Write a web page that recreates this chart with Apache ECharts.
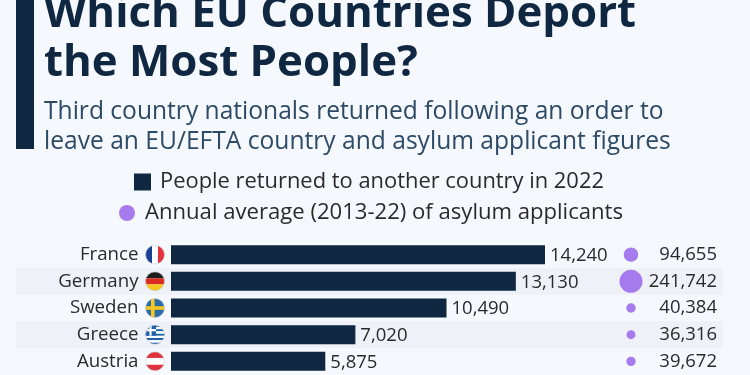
<!DOCTYPE html>
<html>
<head>
<meta charset="utf-8">
<style>
  html, body { margin: 0; padding: 0; background: #f5f8fc; }
  #chart { width: 750px; height: 375px; }
</style>
<script src="https://cdn.jsdelivr.net/npm/echarts@6/dist/echarts.min.js"></script>
</head>
<body>
<div id="chart"></div>
<script>
const countries = ['France', 'Germany', 'Sweden', 'Greece', 'Austria'];
const returned = [14240, 13130, 10490, 7020, 5875];
const asylum = [94655, 241742, 40384, 36316, 39672];
const returnedName = 'People returned to another country in 2022';
const asylumName = 'Annual average (2013-22) of asylum applicants';

function flag(body) {
  const svg = '<svg xmlns="http://www.w3.org/2000/svg" width="40" height="40" viewBox="0 0 20 20">' +
    '<defs><clipPath id="c"><circle cx="10" cy="10" r="9.5"/></clipPath></defs>' +
    '<g clip-path="url(#c)">' + body + '</g>' +
    '<circle cx="10" cy="10" r="9.4" fill="none" stroke="#c8ccd2" stroke-width="0.6"/></svg>';
  return 'image://data:image/svg+xml;charset=utf-8,' + encodeURIComponent(svg);
}
function r(x, y, w, h, c) {
  return `<rect x="${x}" y="${y}" width="${w}" height="${h}" fill="${c}"/>`;
}
const greeceStripes = [0, 2, 4, 6, 8].map(i => r(0, i * 2.22, 20, 2.22, '#1f5fa8')).join('') +
  [1, 3, 5, 7].map(i => r(0, i * 2.22, 20, 2.22, '#fff')).join('') +
  r(0, 0, 11, 11, '#1f5fa8') + r(4.4, 0, 2.2, 11, '#fff') + r(0, 4.4, 11, 2.2, '#fff');
const flags = [
  flag(r(0, 0, 7, 20, '#1a3f95') + r(7, 0, 6, 20, '#fff') + r(13, 0, 7, 20, '#e5323f')),
  flag(r(0, 0, 20, 7, '#1c1c1c') + r(0, 7, 20, 6, '#dc2b22') + r(0, 13, 20, 7, '#f6c81e')),
  flag(r(0, 0, 20, 20, '#2a6ca8') + r(6, 0, 3.6, 20, '#f7c81e') + r(0, 8.2, 20, 3.6, '#f7c81e')),
  flag(greeceStripes),
  flag(r(0, 0, 20, 6.6, '#e0323c') + r(0, 6.6, 20, 6.8, '#fff') + r(0, 13.4, 20, 6.6, '#e0323c'))
];

const chart = echarts.init(document.getElementById('chart'));
const fmt = v => v.toLocaleString('en-US');
const font = '"Open Sans"';
const rowTop = 241.3, rowsH = 133.4;
const textColor = '#2a2a2a';

chart.setOption({
  backgroundColor: '#f5f8fc',
  animation: false,
  textStyle: { fontFamily: font },
  title: [
    {
      text: 'Which EU Countries Deport\nthe Most People?',
      left: 39, top: -15,
      textStyle: { fontFamily: font, fontWeight: 700, fontSize: 43.8, lineHeight: 49, color: '#0f2741' }
    },
    {
      text: 'Third country nationals returned following an order to\nleave an EU/EFTA country and asylum applicant figures',
      left: 39, top: 92,
      textStyle: { fontFamily: font, fontWeight: 400, fontSize: 24.6, lineHeight: 30, color: '#2d4a66' }
    }
  ],
  graphic: [
    { type: 'rect', shape: { x: 16, y: 0, width: 18, height: 149 }, style: { fill: '#0f2741' } }
  ],
  legend: [
    {
      data: [{ name: returnedName, icon: 'rect' }],
      left: 134, top: 171, padding: 0,
      itemWidth: 17, itemHeight: 17,
      textStyle: { fontFamily: font, fontSize: 21.9, color: textColor, padding: [0, 0, 0, 4] }
    },
    {
      data: [{ name: asylumName, icon: 'circle' }],
      left: 119, top: 202, padding: 0,
      itemWidth: 16, itemHeight: 16,
      textStyle: { fontFamily: font, fontSize: 22.1, color: textColor, padding: [0, 0, 0, 5] }
    }
  ],
  grid: [
    { left: 16, width: 707, top: rowTop, height: rowsH },
    { left: 171, width: 374, top: rowTop, height: rowsH },
    { left: 601, width: 60, top: rowTop, height: rowsH },
    { left: 145, width: 20, top: rowTop, height: rowsH }
  ],
  xAxis: [
    { gridIndex: 0, type: 'value', show: false, min: 0, max: 1 },
    { gridIndex: 1, type: 'value', show: false, min: 0, max: 14240 },
    { gridIndex: 2, type: 'value', show: false, min: 0, max: 2 },
    { gridIndex: 3, type: 'value', show: false, min: 0, max: 2 }
  ],
  yAxis: [
    {
      gridIndex: 0, type: 'category', data: countries, inverse: true,
      axisLine: { show: false }, axisTick: { show: false }, axisLabel: { show: false },
      splitLine: { show: false },
      splitArea: { show: true, areaStyle: { color: ['rgba(0,0,0,0)', '#eef1f7'] } }
    },
    {
      gridIndex: 1, type: 'category', data: countries, inverse: true,
      axisLine: { show: false }, axisTick: { show: false },
      axisLabel: { margin: 32.5, fontFamily: font, fontSize: 18.7, color: textColor, padding: [5, 0, 0, 0] }
    },
    {
      gridIndex: 2, type: 'category', data: asylum.map(fmt), inverse: true, position: 'right',
      axisLine: { show: false }, axisTick: { show: false },
      axisLabel: { margin: 56, align: 'right', fontFamily: font, fontSize: 18.5, color: textColor, padding: [5, 0, 0, 0] }
    },
    {
      gridIndex: 3, type: 'category', data: countries, inverse: true, show: false
    }
  ],
  series: [
    {
      name: returnedName, type: 'bar', xAxisIndex: 1, yAxisIndex: 1,
      data: returned, barWidth: 19,
      itemStyle: { color: '#0f2741' },
      label: {
        show: true, position: 'right', distance: 5, offset: [0, 1],
        formatter: p => fmt(p.value),
        fontFamily: font, fontSize: 18.5, color: textColor
      }
    },
    {
      name: asylumName, type: 'scatter', xAxisIndex: 2, yAxisIndex: 2,
      data: asylum.map((v, i) => [1, i, v]),
      symbolSize: d => Math.sqrt(d[2]) * 0.0468,
      itemStyle: { color: '#a67bee', opacity: 1 }
    },
    {
      type: 'scatter', xAxisIndex: 3, yAxisIndex: 3,
      data: flags.map((f, i) => ({ value: [1, i], symbol: f })),
      symbolSize: 20, itemStyle: { opacity: 1 }, silent: true
    }
  ]
});
</script>
</body>
</html>
